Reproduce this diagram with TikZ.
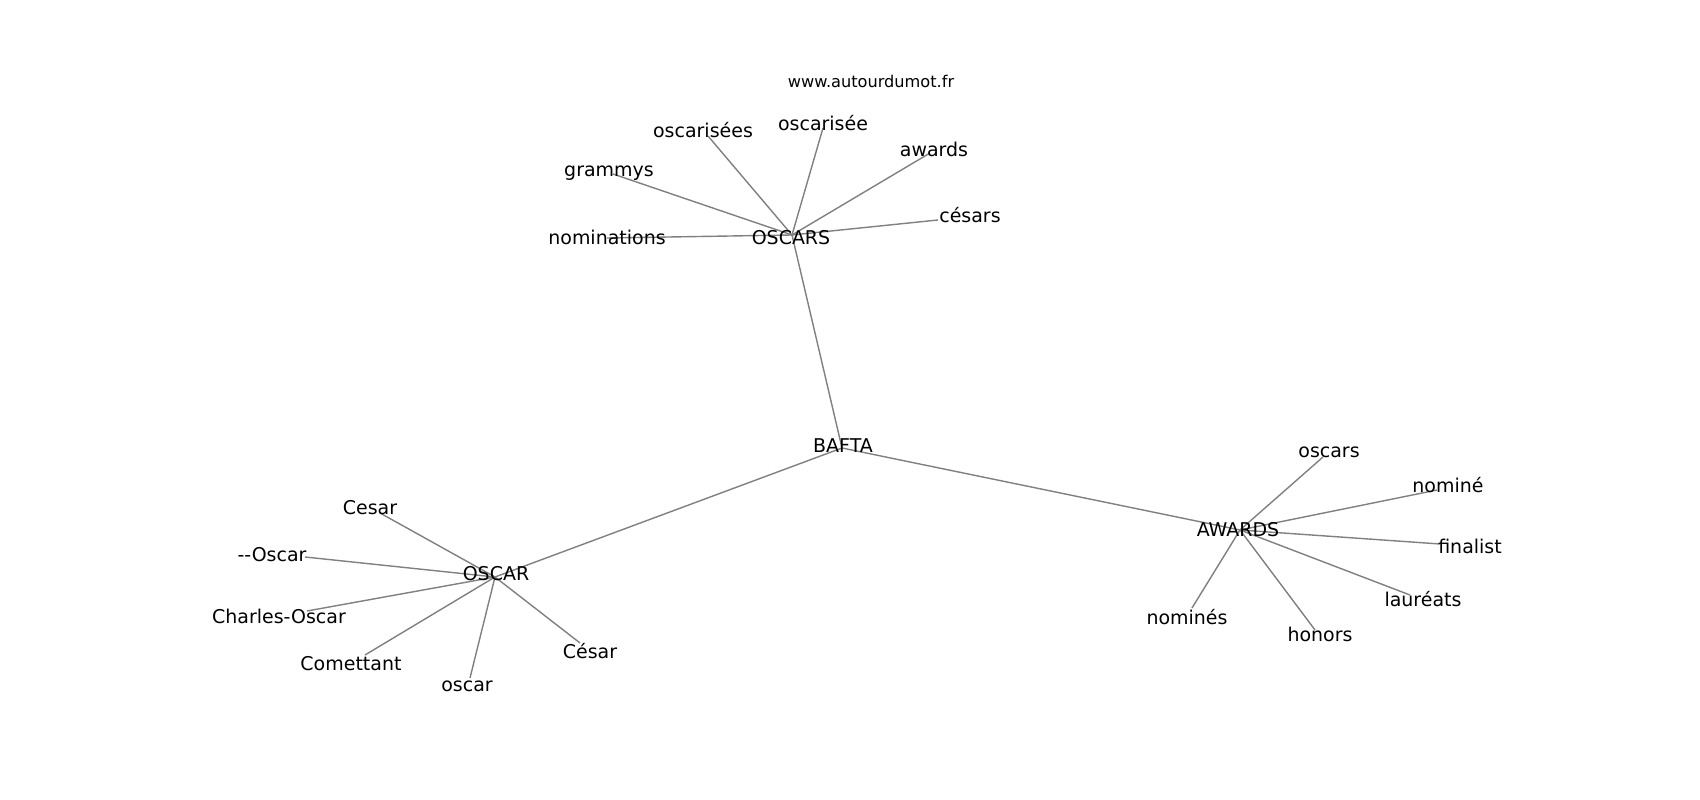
\documentclass[tikz,border=0pt]{standalone}
\usepackage{fontspec}
\newfontfamily\graphfont{DejaVu Sans}
\tikzset{
  word/.style={anchor=base,inner sep=0pt,font=\graphfont\fontsize{5.4}{6}\selectfont},
  link/.style={draw=black!50,line width=0.4pt}
}

\begin{document}
\begin{tikzpicture}
  \useasboundingbox (0,0) rectangle (17,-8);
  % graph points
  \coordinate (bafta) at (8.42,-4.48);
  \coordinate (OSCARS) at (7.92,-2.35);
  \coordinate (OSCAR) at (4.95,-5.77);
  \coordinate (AWARDS) at (12.40,-5.30);
  \coordinate (oscarisees) at (7.08,-1.36);
  \coordinate (oscarisee) at (8.23,-1.28);
  \coordinate (grammys) at (6.13,-1.74);
  \coordinate (nominations) at (6.07,-2.38);
  \coordinate (awards) at (9.30,-1.53);
  \coordinate (cesars) at (9.38,-2.20);
  \coordinate (Cesar) at (3.80,-5.13);
  \coordinate (dOscar) at (3.05,-5.57);
  \coordinate (charles) at (3.07,-6.11);
  \coordinate (comettant) at (3.65,-6.55);
  \coordinate (oscar) at (4.70,-6.78);
  \coordinate (Cesaracc) at (5.80,-6.43);
  \coordinate (oscars) at (13.23,-4.57);
  \coordinate (nomine) at (14.37,-4.90);
  \coordinate (finalist) at (14.40,-5.44);
  \coordinate (laureats) at (14.10,-5.95);
  \coordinate (nomines) at (11.92,-6.08);
  \coordinate (honors) at (13.15,-6.30);
  % edges
  \foreach \a/\b in {bafta/OSCARS,bafta/OSCAR,bafta/AWARDS,
    OSCARS/oscarisees,OSCARS/oscarisee,OSCARS/grammys,OSCARS/nominations,OSCARS/awards,OSCARS/cesars,
    OSCAR/Cesar,OSCAR/dOscar,OSCAR/charles,OSCAR/comettant,OSCAR/oscar,OSCAR/Cesaracc,
    AWARDS/oscars,AWARDS/nomine,AWARDS/finalist,AWARDS/laureats,AWARDS/nomines,AWARDS/honors}
    \draw[link] (\a) -- (\b);
  % labels
  \node[word,font=\graphfont\fontsize{4.6}{5}\selectfont] (url) at (8.71,-0.88) {www.autourdumot.fr};
  \node[word] (bafta-l) at (8.43,-4.53) {BAFTA};
  \node[word] (OSCARS-l) at (7.91,-2.45) {OSCARS};
  \node[word] (oscarisees-l) at (7.03,-1.38) {oscarisées};
  \node[word] (oscarisee-l) at (8.23,-1.31) {oscarisée};
  \node[word] (grammys-l) at (6.09,-1.765) {grammys};
  \node[word] (nominations-l) at (6.07,-2.45) {nominations};
  \node[word] (awards-l) at (9.34,-1.57) {awards};
  \node[word] (cesars-l) at (9.70,-2.23) {césars};
  \node[word] (OSCAR-l) at (4.96,-5.80) {OSCAR};
  \node[word] (Cesar-l) at (3.70,-5.14) {Cesar};
  \node[word] (dOscar-l) at (2.72,-5.62) {--Oscar};
  \node[word] (charles-l) at (2.79,-6.23) {Charles-Oscar};
  \node[word] (comettant-l) at (3.51,-6.70) {Comettant};
  \node[word] (oscar-l) at (4.67,-6.91) {oscar};
  \node[word] (Cesaracc-l) at (5.90,-6.58) {César};
  \node[word] (AWARDS-l) at (12.38,-5.37) {AWARDS};
  \node[word] (oscars-l) at (13.29,-4.58) {oscars};
  \node[word] (nomine-l) at (14.48,-4.93) {nominé};
  \node[word] (finalist-l) at (14.70,-5.53) {finalist};
  \node[word] (laureats-l) at (14.23,-6.07) {lauréats};
  \node[word] (nomines-l) at (11.87,-6.24) {nominés};
  \node[word] (honors-l) at (13.20,-6.42) {honors};
\end{tikzpicture}
\end{document}
